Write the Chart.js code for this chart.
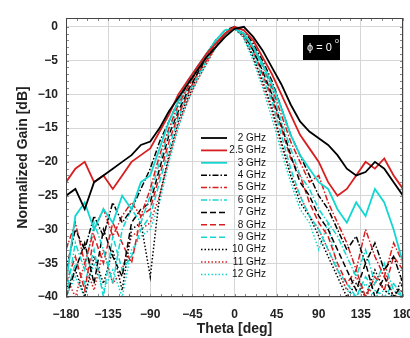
<!DOCTYPE html>
<html>
<head>
<meta charset="utf-8">
<script src="https://cdn.jsdelivr.net/npm/chart.js"></script>
<style>
  html, body { margin: 0; padding: 0; background: #fff; }
  #wrap { width: 410px; height: 338px; }
</style>
</head>
<body>
<div id="wrap"><canvas id="gainChart" width="410" height="338"></canvas></div>
<script>
// theta in degrees, one sample every 10 deg
const theta = [-180,-170,-160,-150,-140,-130,-120,-110,-100,-90,-80,-70,-60,-50,-40,-30,-20,-10,0,
               10,20,30,40,50,60,70,80,90,100,110,120,130,140,150,160,170,180];

const seriesNames = ['2 GHz','2.5 GHz','3 GHz','4 GHz','5 GHz','6 GHz','7 GHz','8 GHz','9 GHz','10 GHz','11 GHz','12 GHz'];
const yTicks = [0, -5, -10, -15, -20, -25, -30, -35, -40];

const g2   = [-25,-24,-27,-23,-22,-21,-20,-19,-17.5,-17,-15,-12.5,-10.5,-8.5,-6.5,-4.5,-3,-1.5,-0.3,0,-1.5,-3.5,-6,-8.5,-11.5,-14,-15.5,-16.5,-17.5,-19,-21,-22,-21.5,-20,-21,-23,-25];
const g2_5 = [-23,-21,-20,-23,-22,-24,-22,-20,-19,-18,-15.5,-13,-10,-8,-6,-4,-2.5,-1,0,-0.5,-2,-4.5,-7,-10,-13,-16,-18,-20,-23,-25,-24,-22,-20,-21,-19.5,-22,-24];
const g3   = [-38,-28,-26,-30,-27,-29,-25,-27,-23,-22,-18,-14,-11,-8,-6,-4,-2,-0.5,-0.3,-1,-3,-5.5,-8.5,-12,-16,-19,-21,-23,-24,-27,-29,-26,-28,-24,-26,-30,-35];
const g4   = [-36,-30,-33,-28,-31,-26,-29,-27,-24,-21,-17,-14,-11,-8.5,-6,-4,-2,-0.5,0,-0.5,-2.5,-5,-8,-12,-16,-19,-22,-25,-27,-30,-33,-31,-35,-32,-36,-34,-38];
const g5   = [-33,-29,-35,-30,-27,-31,-28,-26,-28,-24,-19,-15,-11.5,-9,-6.5,-4.5,-2.5,-1,0,-1,-3,-5.5,-9,-13,-17,-20,-23,-22,-26,-29,-32,-36,-30,-34,-37,-32,-35];
const g6   = [-40,-32,-36,-29,-33,-38,-30,-27,-29,-25,-20,-15.5,-12,-9,-6.5,-4.5,-2.5,-1,-0.2,-1,-3,-6,-9.5,-14,-18,-22,-24,-27,-29,-31,-34,-37,-33,-38,-35,-39,-40];
const g7   = [-40,-36,-32,-38,-30,-34,-37,-29,-27,-26,-21,-16,-12.5,-9.5,-7,-4.5,-2.5,-1,0,-1,-3.5,-6.5,-10,-14.5,-19,-23,-25,-28,-30,-33,-36,-39,-35,-40,-37,-40,-38];
const g8   = [-38,-34,-39,-31,-35,-29,-32,-35,-28,-27,-22,-17,-13,-10,-7,-5,-3,-1,0,-1.2,-3.5,-7,-10.5,-15,-19.5,-22,-26,-29,-31,-35,-38,-36,-40,-37,-39,-34,-36];
const g9   = [-40,-35,-38,-33,-40,-31,-36,-34,-30,-28,-23,-18,-13.5,-10,-7.5,-5,-3,-1.2,0,-1.5,-4,-7.5,-11,-16,-21,-25,-28,-30,-33,-36,-38,-40,-37,-39,-40,-38,-40];
const g10  = [-39,-36,-40,-34,-38,-33,-39,-30,-29,-37,-25,-19,-14,-10.5,-7.5,-5,-3,-1,-0.3,-1.5,-4.5,-8,-12,-17,-22,-26,-28,-31,-34,-37,-40,-38,-40,-36,-39,-40,-37];
const g11  = [-37,-40,-35,-39,-33,-38,-36,-31,-30,-29,-25,-19.5,-14.5,-11,-8,-5.5,-3,-1.2,0,-1.5,-4.5,-8.5,-12.5,-17.5,-22,-25,-28,-30,-33,-36,-39,-37,-40,-38,-36,-40,-39];
const g12  = [-40,-37,-40,-35,-39,-36,-40,-33,-31,-30,-26,-20,-15,-11,-8,-5.5,-3,-1,0,-1.8,-5,-9,-13.5,-18.5,-23,-27,-29,-33,-29,-36,-39,-40,-38,-40,-39,-40,-40];

const gains = [g2, g2_5, g3, g4, g5, g6, g7, g8, g9, g10, g11, g12];

const BLACK = '#000000', RED = '#d81e1e', CYAN = '#14d6d0';
const colors = [BLACK, RED, CYAN, BLACK, RED, CYAN, BLACK, RED, CYAN, BLACK, RED, CYAN];
const solid = [], dashDot = [6, 2, 1.5, 2], dashed = [6, 3], dotted = [1.5, 2];
const dashes = [solid, solid, solid, dashDot, dashDot, dashDot, dashed, dashed, dashed, dotted, dotted, dotted];

const datasets = gains.map((vals, k) => ({
  label: seriesNames[k],
  data: theta.map((t, i) => ({ x: t, y: vals[i] })),
  borderColor: colors[k],
  borderDash: dashes[k],
  borderWidth: k < 3 ? 1.8 : 1.5,
  pointRadius: 0,
  fill: false,
  tension: 0
}));

const FONT = 'Liberation Sans, Arial, sans-serif';
const minus = v => String(v).replace('-', '\u2212');

// frame, minor ticks, legend and the phi label
const overlay = {
  id: 'overlay',
  afterDraw(chart) {
    const ctx = chart.ctx;
    const a = chart.chartArea;
    const xs = chart.scales.x, ys = chart.scales.y;
    ctx.save();

    // minor ticks
    ctx.strokeStyle = '#888';
    ctx.lineWidth = 1;
    ctx.beginPath();
    for (let t = -180; t <= 180; t += 11.25) {
      const px = Math.round(xs.getPixelForValue(t)) + 0.5;
      ctx.moveTo(px, a.top); ctx.lineTo(px, a.top + 3);
      ctx.moveTo(px, a.bottom); ctx.lineTo(px, a.bottom - 3);
    }
    for (let v = -40; v <= 0; v += 1) {
      const py = Math.round(ys.getPixelForValue(v)) + 0.5;
      ctx.moveTo(a.left, py); ctx.lineTo(a.left + 3, py);
      ctx.moveTo(a.right, py); ctx.lineTo(a.right - 3, py);
    }
    ctx.stroke();

    // frame
    ctx.strokeStyle = '#444';
    ctx.lineWidth = 1;
    ctx.strokeRect(a.left + 0.5, a.top + 0.5, a.right - a.left - 1, a.bottom - a.top - 1);

    // legend
    const lx0 = 201, lx1 = 227, tx = 266;
    let ly = 138;
    ctx.font = '10px ' + FONT;
    ctx.textAlign = 'right';
    ctx.textBaseline = 'middle';
    chart.data.datasets.forEach(ds => {
      ctx.strokeStyle = ds.borderColor;
      ctx.lineWidth = ds.borderWidth;
      ctx.setLineDash(ds.borderDash);
      ctx.beginPath();
      ctx.moveTo(lx0, ly); ctx.lineTo(lx1, ly);
      ctx.stroke();
      ctx.setLineDash([]);
      ctx.fillStyle = '#111';
      ctx.fillText(ds.label, tx, ly);
      ly += 12.4;
    });

    // phi = 0 box
    ctx.fillStyle = '#000';
    ctx.fillRect(303, 35, 37, 25);
    ctx.fillStyle = '#fff';
    ctx.textAlign = 'left';
    ctx.font = '11px ' + FONT;
    ctx.fillText('\u03D5 = 0', 307, 48);
    ctx.font = '7px ' + FONT;
    ctx.fillText('o', 335, 41);

    ctx.restore();
  }
};

new Chart(document.getElementById('gainChart'), {
  type: 'line',
  data: { datasets: datasets },
  options: {
    responsive: false,
    animation: false,
    layout: { padding: { top: 18, right: 7, left: 0, bottom: 0 } },
    plugins: {
      legend: { display: false },
      tooltip: { enabled: false }
    },
    scales: {
      x: {
        type: 'linear',
        min: -180,
        max: 180,
        ticks: {
          stepSize: 45,
          color: '#222',
          font: { family: FONT, size: 12, weight: 'bold' },
          padding: 10,
          maxRotation: 0,
          callback: minus
        },
        grid: { color: '#d6d6d6', drawTicks: false },
        border: { display: false },
        title: {
          display: true,
          text: 'Theta [deg]',
          color: '#222',
          font: { family: FONT, size: 14, weight: 'bold' },
          padding: { top: 0, bottom: 0 }
        },
        afterFit: s => { s.height = 41; s.paddingLeft = 0; s.paddingRight = 0; }
      },
      y: {
        min: -40,
        max: 1.3,
        ticks: {
          color: '#222',
          font: { family: FONT, size: 12, weight: 'bold' },
          padding: 8,
          callback: minus
        },
        afterBuildTicks: s => { s.ticks = yTicks.map(v => ({ value: v })); },
        grid: { color: '#d6d6d6', drawTicks: false },
        border: { display: false },
        title: {
          display: true,
          text: 'Normalized Gain [dB]',
          color: '#222',
          font: { family: FONT, size: 14, weight: 'bold' },
          padding: { top: 15, bottom: 0 }
        },
        afterFit: s => { s.width = 66; s.paddingTop = 0; s.paddingBottom = 0; }
      }
    }
  },
  plugins: [overlay]
});
</script>
</body>
</html>
